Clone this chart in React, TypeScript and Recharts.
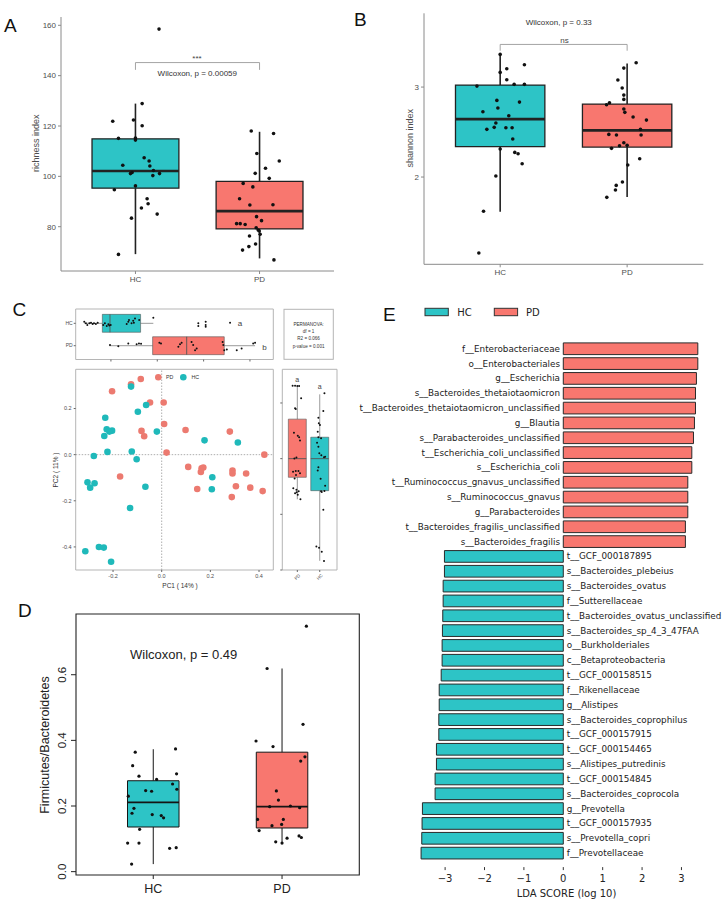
import React from 'react';
import {
  ComposedChart, Scatter, XAxis, YAxis, ReferenceArea, ReferenceLine,
  BarChart, Bar, Cell, LabelList,
} from 'recharts';

// ---------------- colours ----------------
const HC_COLOR = '#2DC4C6';
const PD_COLOR = '#F8776F';
const HC_SCAT = '#1FB9BA';
const PD_SCAT = '#EC7A70';

const groupLabels = ['HC', 'PD'];

// ---------------- Panel A: richness index ----------------
// [jitter offset from group position, value]
const richnessHC = [
  [0.19, 158.5], [0.054, 128.9], [-0.183, 121.9], [-0.016, 122.4], [0.054, 120.1], [-0.137, 115.1],
  [0, 115.2], [0, 114.4], [0.07, 107.4], [0.11, 106.1], [-0.102, 104.4], [0.116, 104.1], [0.145, 102.3],
  [0.194, 101.1], [-0.027, 101.5], [-0.04, 101.1], [0.14, 100.3], [0, 96.2], [-0.17, 94.7], [0.094, 91.1],
  [0.102, 89.1], [0.048, 87.4], [0.175, 85.0], [-0.032, 83.4], [-0.137, 69.0],
];
const richnessPD = [
  [-0.067, 118.0], [0.113, 117.0], [-0.022, 109.1], [0.159, 106.1], [0.048, 103.2], [-0.035, 101.2],
  [0.078, 99.2], [-0.132, 97.2], [-0.054, 95.8], [-0.161, 91.1], [-0.078, 88.6], [0.108, 88.7],
  [-0.024, 84.0], [0.016, 82.4], [-0.185, 81.2], [-0.156, 81.2], [-0.116, 80.9], [-0.027, 79.6],
  [-0.011, 78.7], [-0.003, 78.3], [0.005, 77.0], [-0.081, 76.3], [-0.032, 73.1], [-0.086, 72.1],
  [-0.137, 70.7], [0.116, 66.8],
];
const richnessBoxHC = { lo: 69.1, q1: 95.3, med: 102.1, q3: 114.9, hi: 128.9 };
const richnessBoxPD = { lo: 67.4, q1: 79.1, med: 86.2, q3: 98.0, hi: 117.7 };
const richnessTicks = [80, 100, 120, 140, 160];
const richnessBracket = { y: 145.2, tip: 142.3 };

// ---------------- Panel B: shannon index ----------------
const shannonHC = [
  [0, 3.363], [0, 3.163], [0.052, 3.204], [0.191, 3.248], [0.052, 3.081], [-0.183, 3.011], [0.11, 3.03],
  [0.191, 3.03], [-0.026, 2.852], [0.152, 2.833], [-0.018, 2.767], [-0.136, 2.726], [0.068, 2.681],
  [-0.034, 2.6], [-0.105, 2.53], [-0.047, 2.552], [0.045, 2.548], [0.094, 2.548], [0.099, 2.422],
  [0, 2.311], [0.115, 2.274], [0.141, 2.259], [0.173, 2.148], [-0.034, 2.011], [-0.131, 1.619], [-0.168, 1.156],
];
const shannonPD = [
  [0.071, 3.27], [-0.026, 3.211], [-0.073, 3.078], [-0.039, 2.989], [-0.026, 2.911], [-0.026, 2.863],
  [-0.139, 2.826], [-0.162, 2.804], [-0.026, 2.756], [-0.018, 2.719], [0.047, 2.667], [0.152, 2.633],
  [0.105, 2.53], [-0.144, 2.474], [-0.084, 2.467], [0.11, 2.467], [-0.026, 2.381], [-0.06, 2.348],
  [0, 2.352], [-0.123, 2.319], [0.005, 2.133], [0.099, 2.204], [-0.037, 1.944], [-0.086, 1.907],
  [-0.092, 1.856], [-0.16, 1.774],
];
const shannonBoxHC = { lo: 1.615, q1: 2.337, med: 2.644, q3: 3.022, hi: 3.374 };
const shannonBoxPD = { lo: 1.778, q1: 2.333, med: 2.519, q3: 2.811, hi: 3.263 };
const shannonTicks = [2, 3];
const shannonBracket = { y: 3.474, tip: 3.404 };

// ---------------- Panel C: PCoA ----------------
const pcoaPD = [
  [-0.126, 0.305], [-0.086, 0.328], [-0.204, 0.275], [-0.048, 0.226], [0.008, 0.226], [0.01, 0.133],
  [-0.083, 0.103], [-0.072, 0.080], [0.098, 0.107], [0.280, 0.100], [0.020, 0.009], [0.422, 0.0],
  [-0.171, -0.095], [0.109, -0.053], [0.164, -0.059], [0.171, -0.056], [0.161, -0.075], [0.291, -0.069],
  [0.291, -0.082], [0.347, -0.082], [0.146, -0.149], [0.305, -0.137], [0.364, -0.143], [0.415, -0.158],
  [0.288, -0.184],
];
const pcoaHC = [
  [-0.126, 0.295], [-0.064, 0.215], [-0.098, 0.186], [-0.232, 0.160], [-0.226, 0.110], [-0.204, 0.104],
  [-0.215, 0.100], [-0.236, 0.081], [-0.020, 0.100], [0.176, 0.062], [0.313, 0.053], [-0.223, 0.012],
  [-0.123, 0.014], [-0.279, -0.006], [-0.103, -0.020], [0.208, -0.098], [0.206, -0.150], [-0.305, -0.120],
  [-0.276, -0.124], [-0.294, -0.143], [-0.067, -0.139], [-0.130, -0.231], [-0.258, -0.400],
  [-0.238, -0.403], [-0.314, -0.419], [-0.208, -0.464],
];
const pcTicks = [-0.4, -0.2, 0, 0.2];
const pc1Ticks = [-0.2, 0, 0.2, 0.4];

// top marginal boxplot: [PC1, jitter offset]
const pc1HC = [
  [-0.315, 0.07], [-0.308, 0], [-0.302, -0.08], [-0.293, 0], [-0.286, 0.03], [-0.279, -0.03], [-0.273, 0],
  [-0.265, -0.03], [-0.257, 0.03], [-0.233, -0.08], [-0.226, 0], [-0.218, -0.12], [-0.211, -0.04],
  [-0.207, -0.1], [-0.201, -0.08], [-0.132, -0.03], [-0.125, 0.07], [-0.122, 0.15], [-0.111, 0],
  [-0.104, 0.12], [-0.101, 0.03], [-0.096, 0.22], [-0.078, 0.15], [-0.017, 0.25], [0.177, 0],
  [0.177, -0.12], [0.209, 0.07], [0.209, -0.08], [0.209, -0.15], [0.314, 0.03],
];
const pc1PD = [
  [-0.204, 0.03], [-0.168, -0.02], [-0.125, 0.1], [-0.089, 0.06], [-0.079, 0.1], [-0.070, 0.09],
  [0.009, 0.13], [0.016, 0.1], [0.091, -0.05], [0.098, 0.07], [0.105, 0.13], [0.148, 0.17], [0.155, 0.03],
  [0.163, -0.2], [0.170, -0.12], [0.282, 0.17], [0.285, 0.03], [0.289, -0.2], [0.300, -0.17],
  [0.343, -0.2], [0.364, -0.12], [0.414, 0.1], [0.422, 0.13],
];
const pc1BoxHC = { lo: -0.315, q1: -0.237, med: -0.204, q3: -0.072, hi: -0.017 };
const pc1BoxPD = { lo: -0.207, q1: -0.020, med: 0.127, q3: 0.289, hi: 0.422 };

// right marginal boxplot: [jitter offset, PC2]
const pc2PD = [
  [-0.21, 0.262], [-0.10, 0.262], [0, 0.261], [0.08, 0.261], [0.17, 0.217], [-0.10, 0.181], [-0.07, 0.178],
  [-0.15, 0.093], [0.02, 0.082], [0.08, 0.077], [0.12, 0.065], [-0.04, 0.004], [-0.13, 0.001],
  [-0.19, -0.047], [-0.07, -0.044], [0.05, -0.044], [0.12, -0.052], [-0.06, -0.059], [-0.12, -0.071],
  [-0.18, -0.106], [-0.04, -0.112], [-0.03, -0.121], [0.06, -0.117], [-0.10, -0.124], [0.02, -0.130],
  [0.14, -0.146],
];
const pc2HC = [
  [0.21, 0.235], [0.16, 0.171], [-0.06, 0.147], [-0.04, 0.127], [0.01, 0.121], [-0.09, 0.097], [-0.06, 0.077],
  [0.06, 0.073], [-0.12, 0.057], [-0.06, 0.043], [-0.02, 0.019], [0.07, 0.012], [0.19, 0.005], [0.24, 0.007],
  [-0.06, -0.031], [-0.09, -0.043], [0.04, -0.072], [0.24, -0.097], [0.21, -0.116], [0.06, -0.117],
  [0.09, -0.120], [0.16, -0.184], [-0.15, -0.316], [-0.03, -0.320], [0.09, -0.334], [0.19, -0.368],
];
const pc2BoxPD = { lo: -0.146, q1: -0.067, med: 0, q3: 0.142, hi: 0.261 };
const pc2BoxHC = { lo: -0.367, q1: -0.115, med: 0, q3: 0.077, hi: 0.231 };
const pc2Groups = ['PD', 'HC'];
const permanovaLines = ['PERMANOVA:', 'df = 1', 'R2 = 0.066', 'p-value = 0.001'];

// ---------------- Panel D: F/B ratio ----------------
const fbHC = [
  [0.173, 0.374], [-0.14, 0.364], [-0.16, 0.323], [0.181, 0.298], [-0.111, 0.291], [0.026, 0.281],
  [-0.059, 0.247], [-0.013, 0.245], [0.15, 0.267], [0.183, 0.251], [-0.194, 0.230], [-0.15, 0.193],
  [-0.165, 0.178], [-0.008, 0.174], [0.062, 0.171], [0.08, 0.164], [-0.106, 0.129], [-0.199, 0.087],
  [-0.111, 0.087], [0.127, 0.071], [0.178, 0.073], [-0.168, 0.023],
];
const fbPD = [
  [0.189, 0.748], [-0.116, 0.619], [0.163, 0.449], [-0.202, 0.398], [-0.07, 0.381], [0.145, 0.337],
  [0.178, 0.350], [-0.044, 0.246], [-0.028, 0.218], [-0.096, 0.198], [0.065, 0.200], [0.137, 0.195],
  [-0.19, 0.159], [0.01, 0.159], [-0.078, 0.140], [-0.003, 0.144], [-0.178, 0.125], [-0.049, 0.091],
  [0, 0.087], [0.039, 0.102], [0.132, 0.109], [0.15, 0.104],
];
const fbBoxHC = { lo: 0.023, q1: 0.136, med: 0.211, q3: 0.277, hi: 0.373 };
const fbBoxPD = { lo: 0.087, q1: 0.133, med: 0.198, q3: 0.364, hi: 0.619 };
const fbTicks = [0, 0.2, 0.4, 0.6];

// ---------------- Panel E: LEfSe ----------------
const ldaNames = [
  'f__Enterobacteriaceae', 'o__Enterobacteriales', 'g__Escherichia', 's__Bacteroides_thetaiotaomicron',
  't__Bacteroides_thetaiotaomicron_unclassified', 'g__Blautia', 's__Parabacteroides_unclassified',
  't__Escherichia_coli_unclassified', 's__Escherichia_coli', 't__Ruminococcus_gnavus_unclassified',
  's__Ruminococcus_gnavus', 'g__Parabacteroides', 't__Bacteroides_fragilis_unclassified',
  's__Bacteroides_fragilis', 't__GCF_000187895', 's__Bacteroides_plebeius', 's__Bacteroides_ovatus',
  'f__Sutterellaceae', 't__Bacteroides_ovatus_unclassified', 's__Bacteroides_sp_4_3_47FAA',
  'o__Burkholderiales', 'c__Betaproteobacteria', 't__GCF_000158515', 'f__Rikenellaceae', 'g__Alistipes',
  's__Bacteroides_coprophilus', 't__GCF_000157915', 't__GCF_000154465', 's__Alistipes_putredinis',
  't__GCF_000154845', 's__Bacteroides_coprocola', 'g__Prevotella', 't__GCF_000157935',
  's__Prevotella_copri', 'f__Prevotellaceae',
];
const ldaScores = [
  3.415, 3.415, 3.38, 3.356, 3.356, 3.33, 3.305, 3.263, 3.263, 3.161, 3.161, 3.161, 3.10, 3.10,
  -3.017, -3.017, -3.05, -3.05, -3.06, -3.068, -3.076, -3.076, -3.10, -3.15, -3.15, -3.16, -3.16,
  -3.22, -3.22, -3.254, -3.254, -3.576, -3.585, -3.593, -3.61,
];
const ldaTicks = [-3, -2, -1, 0, 1, 2, 3];
const ldaData = ldaNames.map((name, i) => ({ name, lda: ldaScores[i] }));

// ---------------- helpers ----------------
type Stats = { lo: number; q1: number; med: number; q3: number; hi: number };
type BoxOpts = { stroke: string; sw: number; medW: number; whW: number; horizontal?: boolean };

function boxElems(id: string, s: Stats, pos: number, hw: number, fill: string, o: BoxOpts) {
  const P = (c: number, v: number) => (o.horizontal ? { x: v, y: c } : { x: c, y: v });
  const area = o.horizontal
    ? { x1: s.q1, x2: s.q3, y1: pos - hw, y2: pos + hw }
    : { x1: pos - hw, x2: pos + hw, y1: s.q1, y2: s.q3 };
  return [
    <ReferenceLine key={id + 'w1'} segment={[P(pos, s.q3), P(pos, s.hi)]} stroke={o.stroke} strokeWidth={o.whW} />,
    <ReferenceLine key={id + 'w2'} segment={[P(pos, s.lo), P(pos, s.q1)]} stroke={o.stroke} strokeWidth={o.whW} />,
    <ReferenceArea key={id + 'bx'} {...area} fill={fill} fillOpacity={1} stroke={o.stroke} strokeWidth={o.sw} />,
    <ReferenceLine key={id + 'md'} segment={[P(pos - hw, s.med), P(pos + hw, s.med)]} stroke={o.stroke} strokeWidth={o.medW} />,
  ];
}

function bracket(id: string, b: { y: number; tip: number }) {
  const c = '#9a9a9a';
  return [
    <ReferenceLine key={id + '1'} segment={[{ x: 1, y: b.tip }, { x: 1, y: b.y }]} stroke={c} strokeWidth={0.9} />,
    <ReferenceLine key={id + '2'} segment={[{ x: 1, y: b.y }, { x: 2, y: b.y }]} stroke={c} strokeWidth={0.9} />,
    <ReferenceLine key={id + '3'} segment={[{ x: 2, y: b.y }, { x: 2, y: b.tip }]} stroke={c} strokeWidth={0.9} />,
  ];
}

const jitterV = (arr: number[][], pos: number) => arr.map(([j, v]) => ({ x: pos + j, y: v }));
const dot = (r: number, fill: string) => (p: any) => <circle cx={p.cx} cy={p.cy} r={r} fill={fill} />;
const groupFmt = (v: number) => groupLabels[v - 1] ?? '';

const abs = (left: number, top: number): React.CSSProperties => ({ position: 'absolute', left, top });
const tickStyle = (size: number, fill = '#4d4d4d') => ({ fontSize: size, fill });

const ldaTick = (p: any) => {
  const v = p.payload.value as number;
  const lab = v < 0 ? '\u2212' + Math.abs(v) : String(v);
  return (
    <g>
      <line x1={p.x} x2={p.x} y1={p.y + 7} y2={p.y + 10} stroke="#333" strokeWidth={1} />
      <text x={p.x} y={p.y + 22} textAnchor="middle" fontSize={10} fill="#222" fontFamily="DejaVu Sans">{lab}</text>
    </g>
  );
};

const ldaLabel = (p: any) => {
  const i = ldaNames.indexOf(p.value);
  const v = ldaScores[i];
  const x = Number(p.x), w = Number(p.width), y = Number(p.y), h = Number(p.height);
  const lo = Math.min(x, x + w), hi = Math.max(x, x + w);
  const pos = v >= 0;
  const zero = pos ? lo : hi;
  return (
    <text x={pos ? zero - 3.3 : zero + 3.5} y={y + h / 2} textAnchor={pos ? 'end' : 'start'}
      dominantBaseline="central" fontSize={8.8} fill="#222" fontFamily="DejaVu Sans">{p.value}</text>
  );
};

const fbTick = (p: any) => {
  const v = p.payload.value as number;
  return (
    <text x={p.x} y={p.y} transform={`rotate(-90 ${p.x} ${p.y})`} textAnchor="middle" fontSize={11.5} fill="#222">
      {v.toFixed(1)}
    </text>
  );
};

const pc2GroupTick = (p: any) => {
  const v = p.payload.value as number;
  const cx = p.x, cy = p.y + 5;
  return (
    <text x={cx} y={cy} transform={`rotate(-45 ${cx} ${cy})`} textAnchor="middle" dominantBaseline="central"
      fontSize={4.5} fill="#4d4d4d">{pc2Groups[v - 1]}</text>
  );
};

// ---------------- charts ----------------
function PanelA() {
  return (
    <div style={abs(0, 0)}>
      <ComposedChart width={345} height={290} margin={{ top: 17, right: 11, bottom: 0, left: 0 }}>
        <XAxis type="number" dataKey="x" domain={[0.4, 2.6]} ticks={[1, 2]} tickFormatter={groupFmt}
          allowDataOverflow height={19} tickSize={3} stroke="#8a8a8a" tick={tickStyle(8)} />
        <YAxis type="number" dataKey="y" domain={[62.4, 163.3]} ticks={richnessTicks} allowDataOverflow
          width={61} tickSize={3} stroke="#8a8a8a" tick={tickStyle(8)} />
        {boxElems('ah', richnessBoxHC, 1, 0.35, HC_COLOR, { stroke: '#222', sw: 1.3, medW: 2.6, whW: 1.6 })}
        {boxElems('ap', richnessBoxPD, 2, 0.35, PD_COLOR, { stroke: '#222', sw: 1.3, medW: 2.6, whW: 1.6 })}
        {bracket('abr', richnessBracket)}
        <Scatter data={jitterV(richnessHC, 1)} shape={dot(1.8, '#111')} isAnimationActive={false} />
        <Scatter data={jitterV(richnessPD, 2)} shape={dot(1.8, '#111')} isAnimationActive={false} />
      </ComposedChart>
    </div>
  );
}

function PanelB() {
  return (
    <div style={abs(360, 0)}>
      <ComposedChart width={367} height={290} margin={{ top: 13.3, right: 23.7, bottom: 0, left: 0 }}>
        <XAxis type="number" dataKey="x" domain={[0.4, 2.6]} ticks={[1, 2]} tickFormatter={groupFmt}
          allowDataOverflow height={25.7} tickSize={3} stroke="#8a8a8a" tick={tickStyle(8)} />
        <YAxis type="number" dataKey="y" domain={[1.03, 3.82]} ticks={shannonTicks} allowDataOverflow
          width={64} tickSize={3} stroke="#8a8a8a" tick={tickStyle(8)} />
        {boxElems('bh', shannonBoxHC, 1, 0.352, HC_COLOR, { stroke: '#222', sw: 1.3, medW: 2.6, whW: 1.6 })}
        {boxElems('bp', shannonBoxPD, 2, 0.352, PD_COLOR, { stroke: '#222', sw: 1.3, medW: 2.6, whW: 1.6 })}
        {bracket('bbr', shannonBracket)}
        <Scatter data={jitterV(shannonHC, 1)} shape={dot(1.8, '#111')} isAnimationActive={false} />
        <Scatter data={jitterV(shannonPD, 2)} shape={dot(1.8, '#111')} isAnimationActive={false} />
      </ComposedChart>
    </div>
  );
}

function PanelCTop() {
  const dom: [number, number] = [-0.352, 0.5007];
  const ydom: [number, number] = [0.384, 2.64];
  const o = { stroke: '#555', sw: 0.6, medW: 0.9, whW: 0.6, horizontal: true };
  return (
    <div style={abs(30, 300)}>
      <ComposedChart width={250} height={65} margin={{ top: 9, right: 6.7, bottom: 0, left: 0 }}>
        <XAxis type="number" dataKey="x" domain={dom} ticks={pc1Ticks} tickFormatter={() => ''} allowDataOverflow
          height={5.5} tickSize={2} axisLine={false} stroke="#666" />
        <YAxis type="number" dataKey="y" domain={ydom} ticks={[1, 2]} tickFormatter={(v: number) => (v === 2 ? 'HC' : 'PD')}
          allowDataOverflow width={45.7} tickSize={2} tickMargin={1} axisLine={false} stroke="#666" tick={tickStyle(5)} />
        <ReferenceArea x1={dom[0]} x2={dom[1]} y1={ydom[0]} y2={ydom[1]} fill="none" stroke="#b5b5b5" strokeWidth={1} />
        {boxElems('th', pc1BoxHC, 2, 0.4, HC_COLOR, o)}
        {boxElems('tp', pc1BoxPD, 1, 0.4, PD_COLOR, o)}
        <Scatter data={pc1HC.map(([v, j]) => ({ x: v, y: 2 + j }))} shape={dot(1, '#111')} isAnimationActive={false} />
        <Scatter data={pc1PD.map(([v, j]) => ({ x: v, y: 1 + j }))} shape={dot(1, '#111')} isAnimationActive={false} />
      </ComposedChart>
    </div>
  );
}

function PanelCScatter() {
  const dom: [number, number] = [-0.3535, 0.4587];
  const ydom: [number, number] = [-0.5, 0.37];
  return (
    <div style={abs(30, 365)}>
      <ComposedChart width={250} height={225} margin={{ top: 4.3, right: 6.7, bottom: 0, left: 0 }}>
        <XAxis type="number" dataKey="x" domain={dom} ticks={pc1Ticks} tickFormatter={(v: number) => v.toFixed(1)}
          allowDataOverflow height={20} tickSize={2} axisLine={false} stroke="#666" tick={tickStyle(5.5)} />
        <YAxis type="number" dataKey="y" domain={ydom} ticks={pcTicks} tickFormatter={(v: number) => v.toFixed(1)}
          allowDataOverflow width={45.7} tickSize={2} axisLine={false} stroke="#666" tick={tickStyle(5.5)} />
        <ReferenceArea x1={dom[0]} x2={dom[1]} y1={ydom[0]} y2={ydom[1]} fill="none" stroke="#b5b5b5" strokeWidth={1} />
        <ReferenceLine x={0} stroke="#9a9a9a" strokeDasharray="1.5 1.5" strokeWidth={0.8} />
        <ReferenceLine y={0} stroke="#9a9a9a" strokeDasharray="1.5 1.5" strokeWidth={0.8} />
        <Scatter data={pcoaPD.map(([x, y]) => ({ x, y }))} shape={dot(3.3, PD_SCAT)} isAnimationActive={false} />
        <Scatter data={pcoaHC.map(([x, y]) => ({ x, y }))} shape={dot(3.3, HC_SCAT)} isAnimationActive={false} />
      </ComposedChart>
    </div>
  );
}

function PanelCRight() {
  const dom: [number, number] = [0.33, 2.77];
  const ydom: [number, number] = [-0.4, 0.321];
  const o = { stroke: '#555', sw: 0.6, medW: 0.9, whW: 0.6 };
  return (
    <div style={abs(276, 365)}>
      <ComposedChart width={66} height={225} margin={{ top: 4.3, right: 5, bottom: 0, left: 0 }}>
        <XAxis type="number" dataKey="x" domain={dom} ticks={[1, 2]} allowDataOverflow height={20} tickSize={2}
          tickMargin={0} axisLine={false} stroke="#666" tick={pc2GroupTick} />
        <YAxis type="number" dataKey="y" domain={ydom} ticks={pcTicks} tickFormatter={() => ''} allowDataOverflow
          width={6.3} tickSize={2} axisLine={false} stroke="#666" />
        <ReferenceArea x1={dom[0]} x2={dom[1]} y1={ydom[0]} y2={ydom[1]} fill="none" stroke="#b5b5b5" strokeWidth={1} />
        {boxElems('rp', pc2BoxPD, 1, 0.4, PD_COLOR, o)}
        {boxElems('rh', pc2BoxHC, 2, 0.4, HC_COLOR, o)}
        <Scatter data={jitterV(pc2PD, 1)} shape={dot(1, '#111')} isAnimationActive={false} />
        <Scatter data={jitterV(pc2HC, 2)} shape={dot(1, '#111')} isAnimationActive={false} />
      </ComposedChart>
    </div>
  );
}

function PanelD() {
  const dom: [number, number] = [0.4, 2.6];
  const ydom: [number, number] = [-0.0102, 0.785];
  const o = { stroke: '#151515', sw: 1, medW: 1.8, whW: 1 };
  return (
    <div style={abs(0, 600)}>
      <ComposedChart width={370} height={308} margin={{ top: 14, right: 10.7, bottom: 0, left: 0 }}>
        <XAxis type="number" dataKey="x" domain={dom} ticks={[1, 2]} tickFormatter={groupFmt} allowDataOverflow
          height={33} tickSize={4} tickMargin={5} axisLine={false} stroke="#222" tick={tickStyle(12.5, '#222')} />
        <YAxis type="number" dataKey="y" domain={ydom} ticks={fbTicks} allowDataOverflow width={76} tickSize={5}
          tickMargin={4.5} axisLine={false} stroke="#222" tick={fbTick} />
        <ReferenceArea x1={dom[0]} x2={dom[1]} y1={ydom[0]} y2={ydom[1]} fill="none" stroke="#222" strokeWidth={1.1} />
        {boxElems('dh', fbBoxHC, 1, 0.2, HC_COLOR, o)}
        {boxElems('dp', fbBoxPD, 2, 0.2, PD_COLOR, o)}
        <Scatter data={jitterV(fbHC, 1)} shape={dot(1.6, '#111')} isAnimationActive={false} />
        <Scatter data={jitterV(fbPD, 2)} shape={dot(1.6, '#111')} isAnimationActive={false} />
      </ComposedChart>
    </div>
  );
}

function PanelE() {
  return (
    <div style={abs(340, 330)}>
      <BarChart layout="vertical" width={387} height={578} data={ldaData} barSize={11.7}
        margin={{ top: 10.9, right: 21.9, bottom: 0, left: 73.6 }}>
        <XAxis type="number" dataKey="lda" domain={[-3.8, 3.6]} ticks={ldaTicks} allowDataOverflow height={47.9}
          axisLine={false} tickLine={false} tickSize={0} tickMargin={0} tick={ldaTick} />
        <YAxis type="category" dataKey="name" hide />
        <Bar dataKey="lda" isAnimationActive={false} stroke="#2a2a2a" strokeWidth={1}>
          {ldaData.map((d, i) => (
            <Cell key={i} fill={d.lda > 0 ? PD_COLOR : HC_COLOR} />
          ))}
          <LabelList dataKey="name" content={ldaLabel} />
        </Bar>
      </BarChart>
    </div>
  );
}

function Overlay() {
  const letter = { fontSize: 19, fill: '#111' };
  return (
    <svg width={727} height={908} style={{ position: 'absolute', left: 0, top: 0, pointerEvents: 'none' }}>
      {/* panel letters */}
      <text x={4} y={31.7} {...letter}>A</text>
      <text x={354} y={25.5} {...letter}>B</text>
      <text x={12.5} y={315.5} {...letter}>C</text>
      <text x={18} y={617} {...letter}>D</text>
      <text x={383} y={320.5} {...letter}>E</text>

      {/* A */}
      <text x={36} y={143.3} transform="rotate(-90 36 143.3)" textAnchor="middle" dominantBaseline="central"
        fontSize={9} fill="#4d4d4d">richness index</text>
      <text x={197} y={61} textAnchor="middle" fontSize={8} fill="#444">***</text>
      <text x={197.3} y={75.8} textAnchor="middle" fontSize={8} fill="#333">Wilcoxon, p = 0.00059</text>

      {/* B */}
      <text x={410} y={138.3} transform="rotate(-90 410 138.3)" textAnchor="middle" dominantBaseline="central"
        fontSize={9} fill="#4d4d4d">shannon index</text>
      <text x={558.8} y={25} textAnchor="middle" fontSize={8} fill="#333">Wilcoxon, p = 0.33</text>
      <text x={564.5} y={42.5} textAnchor="middle" fontSize={8} fill="#444">ns</text>

      {/* C */}
      <text x={55.5} y={470} transform="rotate(-90 55.5 470)" textAnchor="middle" dominantBaseline="central"
        fontSize={6.5} fill="#333">PC2 ( 11% )</text>
      <text x={180} y={588} textAnchor="middle" fontSize={6.5} fill="#333">PC1 ( 14% )</text>
      <circle cx={158.3} cy={377.3} r={3.3} fill={PD_SCAT} />
      <text x={166} y={377.3} dominantBaseline="central" fontSize={5.3} fill="#333">PD</text>
      <circle cx={183.3} cy={377.3} r={3.3} fill={HC_SCAT} />
      <text x={191.5} y={377.3} dominantBaseline="central" fontSize={5.3} fill="#333">HC</text>
      <text x={237.7} y={326.3} fontSize={8} fill="#444">a</text>
      <text x={262.3} y={349.5} fontSize={8} fill="#444">b</text>
      <text x={297.3} y={381.5} textAnchor="middle" fontSize={7} fill="#444">a</text>
      <text x={319.7} y={389.2} textAnchor="middle" fontSize={7} fill="#444">a</text>
      <rect x={284} y={309.3} width={49.3} height={50} fill="#fff" stroke="#b5b5b5" strokeWidth={1} />
      {permanovaLines.map((t, i) => (
        <text key={t} x={308.6} y={325.5 + i * 7.4} textAnchor="middle" fontSize={4.6} fill="#333">{t}</text>
      ))}

      {/* D */}
      <text x={45} y={745} transform="rotate(-90 45 745)" textAnchor="middle" dominantBaseline="central"
        fontSize={12.5} fill="#222">Firmicutes/Bacteroidetes</text>
      <text x={130} y={658.5} fontSize={13} fill="#222">Wilcoxon, p = 0.49</text>

      {/* E legend & axis title */}
      <g fontFamily="DejaVu Sans">
        <rect x={425} y={308.3} width={23.3} height={7.4} fill={HC_COLOR} stroke="#333" strokeWidth={1} />
        <text x={457.3} y={316.3} fontSize={10} fill="#222">HC</text>
        <rect x={494.3} y={308.3} width={23.3} height={7.4} fill={PD_COLOR} stroke="#333" strokeWidth={1} />
        <text x={526} y={316.3} fontSize={10} fill="#222">PD</text>
        <text x={566.5} y={897} textAnchor="middle" fontSize={10} fill="#222">LDA SCORE (log 10)</text>
      </g>
    </svg>
  );
}

export default function App() {
  return (
    <div style={{ position: 'absolute', left: 0, top: 0, width: 727, height: 908, background: '#fff',
      fontFamily: '"Liberation Sans", Arial, sans-serif' }}>
      <PanelA />
      <PanelB />
      <PanelCTop />
      <PanelCScatter />
      <PanelCRight />
      <PanelD />
      <PanelE />
      <Overlay />
    </div>
  );
}
